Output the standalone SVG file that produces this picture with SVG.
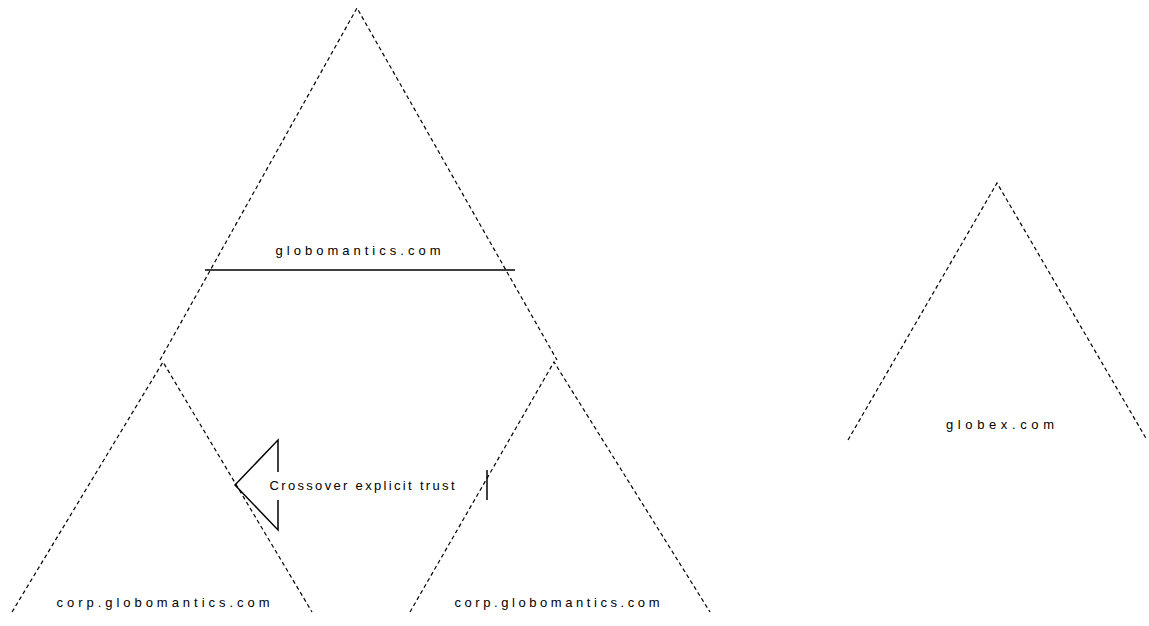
<svg xmlns="http://www.w3.org/2000/svg" width="1149" height="626" viewBox="0 0 1149 626">
<style>
.tri{fill:none;stroke:#000;stroke-width:1.2;stroke-dasharray:4 3}
.solid{fill:none;stroke:#000;stroke-width:1.5}
.lbl{font-family:"Liberation Sans",Arial,sans-serif;font-size:13px;fill:#000;text-anchor:middle}
</style>
<rect width="1149" height="626" fill="#fff"/>
<g id="forest-root">
<polyline class="tri" points="160,360 357,8 557,360"/>
<line class="solid" x1="205" y1="270" x2="515" y2="270"/>
<text class="lbl" x="358" y="255" textLength="165" lengthAdjust="spacing">globomantics.com</text>
</g>
<g id="child-left">
<polyline class="tri" points="12,612 163,362 312,612"/>
<text class="lbl" x="163" y="607" textLength="213" lengthAdjust="spacing">corp.globomantics.com</text>
</g>
<g id="child-right">
<polyline class="tri" points="410,612 554,362 710,612"/>
<text class="lbl" x="557" y="607" textLength="205" lengthAdjust="spacing">corp.globomantics.com</text>
</g>
<g id="forest-other">
<polyline class="tri" points="848,440 997,183 1147,440"/>
<text class="lbl" x="1000" y="429" textLength="108" lengthAdjust="spacing">globex.com</text>
</g>
<g id="connectors">
<polyline class="solid" points="278,472 278,440 235,485 278,530 278,500"/>
<line class="solid" x1="487" y1="470" x2="487" y2="500"/>
<text class="lbl" x="362" y="490" textLength="185" lengthAdjust="spacing">Crossover explicit trust</text>
</g>
</svg>
